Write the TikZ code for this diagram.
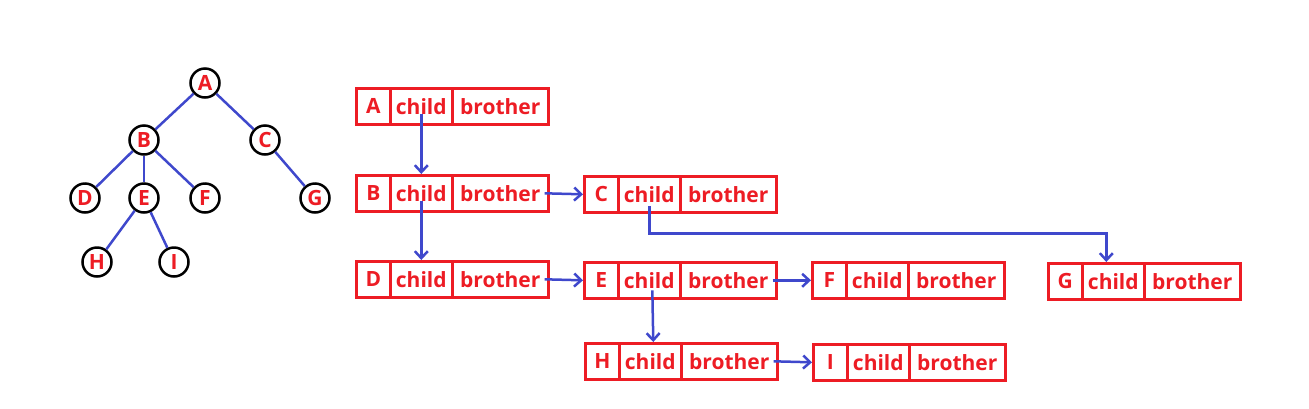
\documentclass[tikz,border=0pt]{standalone}
\usepackage{fontspec}
\setmainfont{Open Sans}
\usetikzlibrary{arrows.meta,calc}
\definecolor{pred}{RGB}{237,28,36}
\definecolor{pblue}{RGB}{63,72,204}
\tikzset{
  cell/.style={draw=pred,line width=2.6pt,inner sep=0pt,minimum height=36pt,anchor=north west,
    text=pred,font=\fontsize{21}{21}\selectfont\bfseries},
  tn/.style={circle,draw=black,line width=2.5pt,fill=white,minimum size=29pt,inner sep=0pt,
    text=pred,font=\fontsize{21}{21}\selectfont\bfseries},
  te/.style={draw=pblue,line width=2.5pt},
  ar/.style={draw=pblue,line width=2.5pt,-{Straight Barb[length=7pt,width=13pt]}},
}
\newcommand\rec[3]{%
  \node[cell,minimum width=34pt] (#1n) at (#2,#3) {#1};
  \node[cell,minimum width=62pt] (#1c) at (#2+34,#3) {child};
  \node[cell,minimum width=96pt] (#1b) at (#2+96,#3) {brother};
}
\begin{document}
\begin{tikzpicture}[x=1pt,y=-1pt]
\useasboundingbox (0,0) rectangle (1309,408);
% tree
\node[tn] (tA) at (205,83) {A};
\node[tn] (tB) at (144,140) {B};
\node[tn] (tC) at (265,140) {C};
\node[tn] (tD) at (85,198) {D};
\node[tn] (tE) at (144,198) {E};
\node[tn] (tF) at (205,198) {F};
\node[tn] (tG) at (315,198) {G};
\node[tn] (tH) at (97,262) {H};
\node[tn] (tI) at (174,262) {I};
\draw[te] (tA) -- (tB);
\draw[te] (tA) -- (tC);
\draw[te] (tB) -- (tD);
\draw[te] (tB) -- (tE);
\draw[te] (tB) -- (tF);
\draw[te] (tC) -- (tG);
\draw[te] (tE) -- (tH);
\draw[te] (tE) -- (tI);
% records
\rec{A}{355}{87}
\rec{B}{355}{174}
\rec{C}{583}{175}
\rec{D}{355}{260}
\rec{E}{583}{261}
\rec{F}{811}{261}
\rec{G}{1047}{262}
\rec{H}{584}{342}
\rec{I}{812}{343}
% connectors
\draw[ar] ($(Ac.center)+(0,8)$) -- (Bc.north);
\draw[ar] ($(Bc.center)+(0,8)$) -- (Dc.north);
\draw[ar] ($(Bb.east)+(-5,0)$) -- (Cn.west);
\draw[ar] ($(Db.east)+(-5,0)$) -- (En.west);
\draw[ar] ($(Eb.east)+(-5,0)$) -- (Fn.west);
\draw[ar] ($(Hb.east)+(-5,0)$) -- (In.west);
\draw[ar] ($(Ec.center)+(3,10)$) -- ($(Hc.north)+(3,0)$);
\draw[ar] ($(Cc.center)+(0,12)$) -- ++(0,27) -| ($(Gc.north)+(-7,0)$);
\end{tikzpicture}
\end{document}
